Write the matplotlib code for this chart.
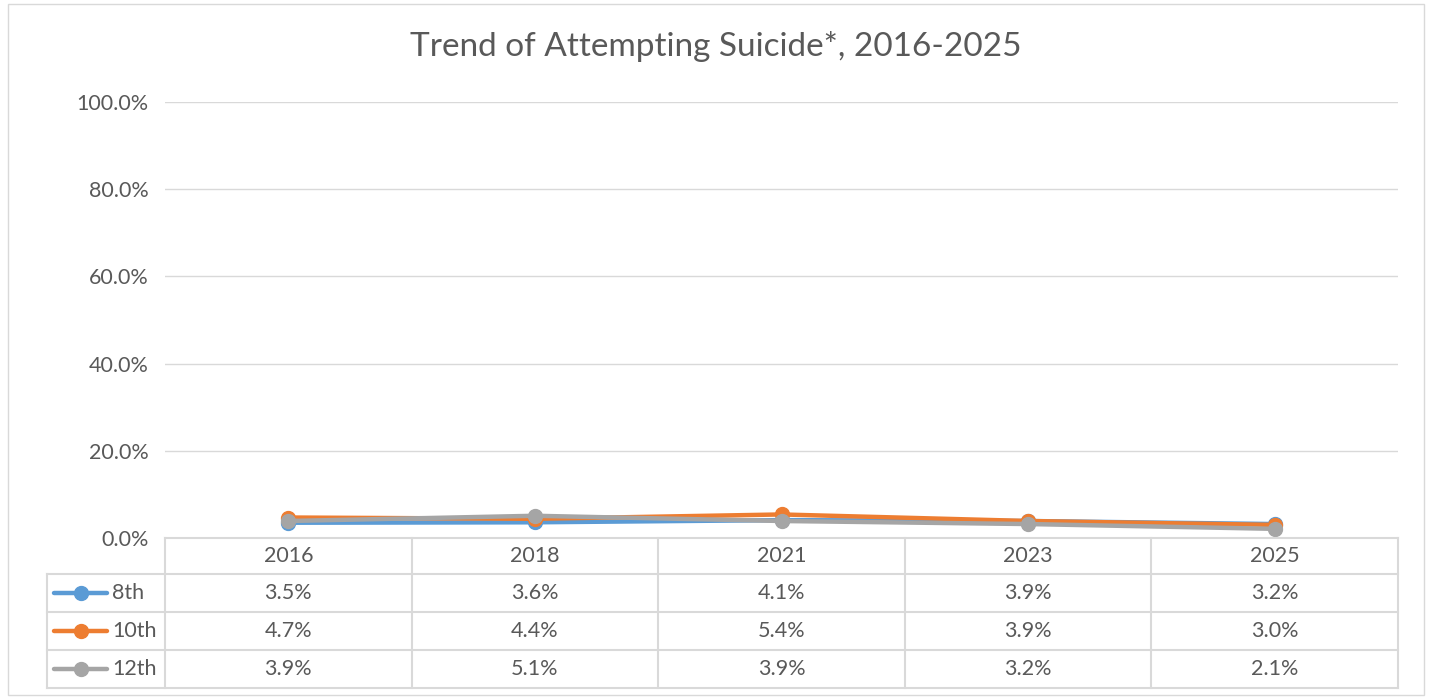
import matplotlib
matplotlib.use('Agg')
import matplotlib.pyplot as plt
from matplotlib.patches import Rectangle

plt.rcParams['font.family'] = ['Lato', 'DejaVu Sans']

years = ['2016', '2018', '2021', '2023', '2025']
grades = ['8th', '10th', '12th']
grade_8 = [3.5, 3.6, 4.1, 3.9, 3.2]
grade_10 = [4.7, 4.4, 5.4, 3.9, 3.0]
grade_12 = [3.9, 5.1, 3.9, 3.2, 2.1]
colors = ['#5B9BD5', '#ED7D31', '#A5A5A5']
title = 'Trend of Attempting Suicide*, 2016-2025'

W, H = 1432, 698
TXT = '#595959'
GRID = '#d9d9d9'
FS = 15.5

fig = plt.figure(figsize=(W / 100, H / 100), dpi=100)
fig.patch.set_facecolor('white')
fig.patches.append(Rectangle((8 / W, 3 / H), 1416 / W, 691 / H, transform=fig.transFigure,
                             fill=False, edgecolor=GRID, linewidth=1))

# plot area
left, right, top, bottom = 165, 1398, 102, 538
ax = fig.add_axes([left / W, (H - bottom) / H, (right - left) / W, (bottom - top) / H])
series = [grade_8, grade_10, grade_12]
x = list(range(len(years)))
for vals, c in zip(series, colors):
    ax.plot(x, vals, color=c, linewidth=3.2, marker='o', markersize=10,
            solid_capstyle='round', zorder=3)
ax.set_xlim(-0.5, len(years) - 0.5)
ax.set_ylim(0, 100)
ax.set_yticks([0, 20, 40, 60, 80, 100])
ax.set_yticklabels([f'{v:.1f}%' for v in [0, 20, 40, 60, 80, 100]], fontsize=FS, color=TXT)
ax.tick_params(axis='y', length=0, pad=12)
ax.set_xticks([])
ax.grid(axis='y', color=GRID, linewidth=1)
for s in ax.spines.values():
    s.set_visible(False)
ax.set_facecolor('none')

fig.text(0.5, 1 - 47 / H, title, ha='center', va='center', fontsize=24, color=TXT)

# data table
tl, tb = 47, 688
ta = fig.add_axes([tl / W, (H - tb) / H, (right - tl) / W, (tb - bottom) / H])
ta.set_xlim(tl, right)
ta.set_ylim(tb, bottom)
ta.axis('off')
col_w = (right - left) / len(years)
rows_y = [bottom, 574, 612, 650, 688]
lk = dict(color=GRID, linewidth=1.5, clip_on=False)
ta.plot([left, right], [rows_y[0]] * 2, **lk)
for yy in rows_y[1:]:
    ta.plot([tl, right], [yy, yy], **lk)
ta.plot([tl, tl], [rows_y[1], tb], **lk)
for i in range(len(years) + 1):
    xx = left + i * col_w
    ta.plot([xx, xx], [bottom, tb], **lk)
for i, yr in enumerate(years):
    ta.text(left + (i + 0.5) * col_w, (rows_y[0] + rows_y[1]) / 2, yr,
            ha='center', va='center', fontsize=FS, color=TXT)
for r, (g, vals, c) in enumerate(zip(grades, series, colors)):
    yc = (rows_y[r + 1] + rows_y[r + 2]) / 2
    ta.plot([54, 107], [yc, yc], color=c, linewidth=3.2, solid_capstyle='round', clip_on=False)
    ta.plot([81], [yc], color=c, marker='o', markersize=10, clip_on=False)
    ta.text(112, yc, g, ha='left', va='center', fontsize=FS, color=TXT)
    for i, v in enumerate(vals):
        ta.text(left + (i + 0.5) * col_w, yc, f'{v:.1f}%', ha='center', va='center',
                fontsize=FS, color=TXT)

fig.savefig('out.png', dpi=100)
